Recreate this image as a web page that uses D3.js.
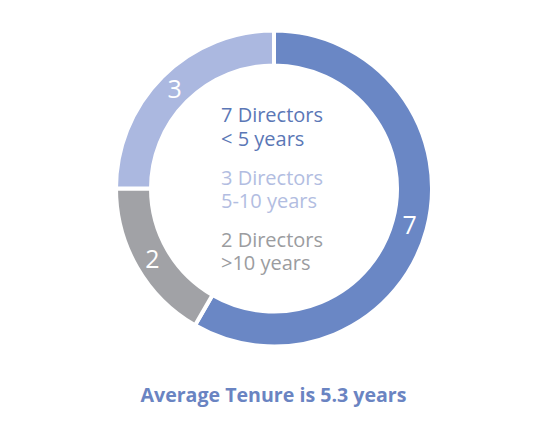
<!DOCTYPE html>
<html>
<head>
<meta charset="utf-8">
<script src="https://cdn.jsdelivr.net/npm/d3@7"></script>
<style>
  html, body { margin: 0; padding: 0; background: #fff; }
  svg { display: block; }
  text { font-family: "Open Sans", "Noto Sans", sans-serif; }
</style>
</head>
<body>
<svg id="chart" width="537" height="426"></svg>
<script>
// Data
const directors = [7, 2, 3];            // slice order clockwise from top
const sliceKeys = ["< 5 years", ">10 years", "5-10 years"];
const legendCounts = [7, 3, 2];
const legendLabels = ["< 5 years", "5-10 years", ">10 years"];
const title = "Average Tenure is 5.3 years";

const colors = { "< 5 years": "#6a87c5", "5-10 years": "#abb8e0", ">10 years": "#a1a2a6" };
const textColors = { "< 5 years": "#5b77b6", "5-10 years": "#b2bde1", ">10 years": "#9b9ca0" };

const svg = d3.select("#chart");
const cx = 274, cy = 188.5, rOuter = 158, rInner = 123;

const pie = d3.pie().sort(null).value(d => d.v);
const slices = pie(directors.map((v, i) => ({ v, k: sliceKeys[i] })));
const arc = d3.arc().innerRadius(rInner).outerRadius(rOuter);

const g = svg.append("g").attr("transform", `translate(${cx},${cy})`);
g.selectAll("path.slice").data(slices).join("path")
  .attr("class", "slice")
  .attr("d", arc)
  .attr("fill", d => colors[d.data.k])
  .attr("stroke", "#fff")
  .attr("stroke-width", 4);

g.selectAll("text.val").data(slices).join("text")
  .attr("class", "val")
  .attr("transform", d => `translate(${arc.centroid(d)})`)
  .attr("text-anchor", "middle")
  .attr("dy", "0.36em")
  .attr("fill", "#fff")
  .attr("font-size", 25)
  .text(d => d.data.v);

// Center legend text
const lx = 221;
const baselines = [[122, 146], [185, 208], [247, 270]];
legendLabels.forEach((lab, i) => {
  const t = svg.append("text").attr("x", lx).attr("font-size", 20).attr("fill", textColors[lab]);
  t.append("tspan").attr("x", lx).attr("y", baselines[i][0]).text(`${legendCounts[i]} Directors`);
  t.append("tspan").attr("x", lx).attr("y", baselines[i][1]).text(lab);
});

svg.append("text")
  .attr("x", 273.5).attr("y", 402)
  .attr("text-anchor", "middle")
  .attr("font-size", 19.6)
  .attr("font-weight", "bold")
  .attr("fill", "#6a84c2")
  .text(title);
</script>
</body>
</html>
